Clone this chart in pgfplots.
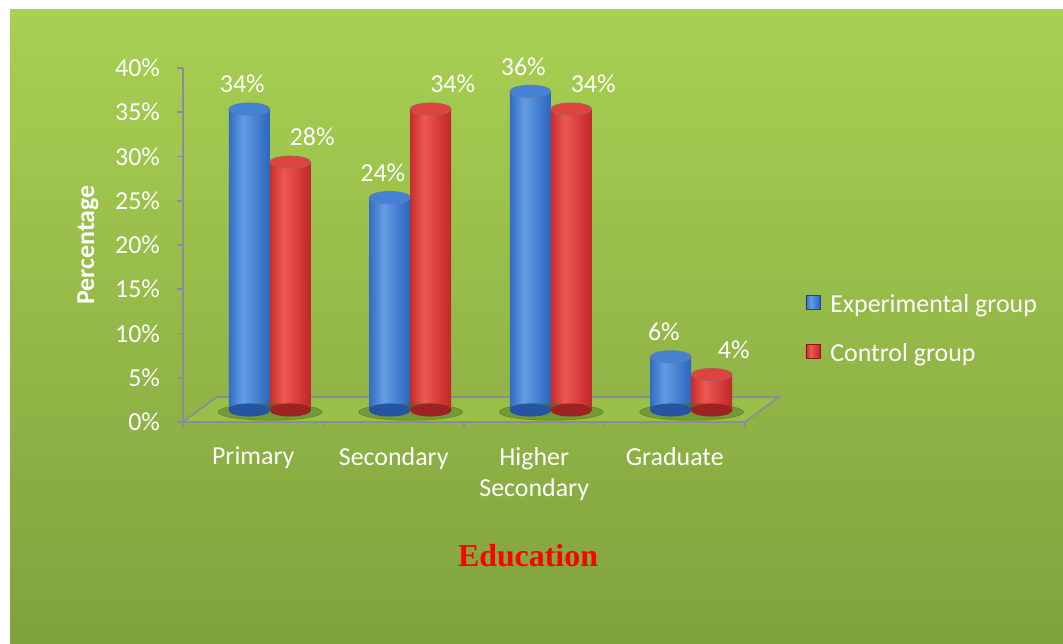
\documentclass[border=0pt]{standalone}
\usepackage{pgfplots}
\pgfplotsset{compat=1.18}
\usepackage{pgfplotstable}
\usepackage{fontspec}
\setmainfont{Carlito}
\newfontfamily\timesfont{Liberation Serif}
\definecolor{bgtop}{RGB}{168,208,82}
\definecolor{bgbot}{RGB}{128,162,62}
\definecolor{bluedark}{RGB}{28,68,140}
\definecolor{bluemid}{RGB}{50,110,195}
\definecolor{bluelight}{RGB}{100,155,228}
\definecolor{bluecap}{RGB}{70,130,212}
\definecolor{reddark}{RGB}{130,26,26}
\definecolor{redmid}{RGB}{200,45,45}
\definecolor{redlight}{RGB}{238,88,82}
\definecolor{redcap}{RGB}{222,68,62}
\definecolor{axisgray}{RGB}{140,140,152}
\definecolor{floorgreen}{RGB}{152,192,72}
\definecolor{shadowgreen}{RGB}{70,110,30}
\pgfdeclarehorizontalshading{bluecyl}{100bp}{color(0bp)=(bluedark); color(25bp)=(bluemid); color(42bp)=(bluelight); color(70bp)=(bluemid); color(100bp)=(bluedark)}
\pgfdeclarehorizontalshading{redcyl}{100bp}{color(0bp)=(reddark); color(25bp)=(redmid); color(42bp)=(redlight); color(70bp)=(redmid); color(100bp)=(reddark)}

\pgfplotstableread{
x y z
-0.028 34 0
0.972 24 0
1.972 36 0
2.972 6 0
}\expdata
\pgfplotstableread{
x y z
0.263 28 0
1.263 34 0
2.263 34 0
3.263 4 0
}\condata
\pgfplotstableread{
x y
0.12 0
1.12 0
2.12 0
3.12 0
}\shadowdata

\pgfplotsset{
  bluebar/.style={ybar, bar width=0.29, bar shift=0pt, draw=none, shading=bluecyl, yshift=6bp,
    every node near coord/.append style={xshift=-3.5bp, yshift=12.5bp},
    legend image code/.code={\fill[bluemid, draw=bluedark] (0bp,-8.5bp) rectangle (7bp,-1.5bp);}},
  redbar/.style={ybar, bar width=0.29, bar shift=0pt, draw=none, shading=redcyl, yshift=6bp,
    every node near coord/.append style={xshift=11bp, yshift=12.5bp},
    legend image code/.code={\fill[redmid, draw=reddark] (0bp,-8.5bp) rectangle (7bp,-1.5bp);}},
}

\begin{document}
\begin{tikzpicture}[x=0.5bp,y=0.5bp]
\useasboundingbox (0,0) rectangle (1063,644);
\fill[white] (0,0) rectangle (1063,644);
\shade[top color=bgtop, bottom color=bgbot] (10,0) rectangle (1063,634);
\begin{axis}[
  at={(91.5bp,111bp)}, anchor=south west,
  scale only axis, width=281bp, height=177bp,
  xmin=-0.5, xmax=3.5, ymin=0, ymax=40, clip=false,
  axis x line*=bottom, axis y line*=left,
  axis line style={axisgray, line width=0.8bp, -},
  xtick={0,1,2,3},
  xticklabels={Primary,Secondary,{Higher\\Secondary},Graduate},
  xticklabel style={align=center, text=white, anchor=north, font=\fontsize{13}{16}\selectfont, yshift=-6bp},
  major x tick style={draw=none},
  minor xtick={-0.5,0.5,1.5,2.5,3.5},
  ytick={0,5,...,40},
  yticklabel={\pgfmathprintnumber{\tick}\%},
  yticklabel style={text=white, font=\fontsize{13}{16}\selectfont, xshift=-5bp},
  /pgf/number format/assume math mode=true,
  tick align=outside, major tick length=3bp, minor tick length=3bp,
  every tick/.style={axisgray, line width=0.8bp},
  legend style={at={(1.107,0.373)}, anchor=north west, draw=none, fill=none,
    font=\fontsize{13}{16}\selectfont, text=white, row sep=10bp, inner sep=0pt,
    /tikz/every odd column/.append style={column sep=3bp}},
  legend cell align=left,
  nodes near coords={\pgfmathprintnumber{\pgfplotspointmeta}\%},
  every node near coord/.append style={text=white, font=\fontsize{13}{16}\selectfont, anchor=center},
]
% floor
\addplot[forget plot, fill=floorgreen, draw=axisgray, line width=0.8bp, nodes near coords={}] coordinates {(-0.5,0) (3.5,0) (3.74,2.82) (-0.26,2.82)} -- cycle;
% shadows
\addplot[forget plot, only marks, mark=*, color=shadowgreen, opacity=0.45, mark size=26bp, mark options={yscale=0.16}, yshift=5bp, nodes near coords={}] table[x=x,y=y]{\shadowdata};
% bottoms
\addplot[forget plot, only marks, mark=*, mark size=10.2bp, color=bluedark!60!bluemid, mark options={yscale=0.3}, yshift=6bp, nodes near coords={}] table[x=x,y=z]{\expdata};
\addplot[forget plot, only marks, mark=*, mark size=10.2bp, color=reddark!60!redmid, mark options={yscale=0.3}, yshift=6bp, nodes near coords={}] table[x=x,y=z]{\condata};
% bars
\addplot[bluebar] coordinates {(-0.028,34)};
\addlegendentry{Experimental group}
\addplot[redbar] coordinates {(0.263,28)};
\addlegendentry{Control group}
\addplot[bluebar, forget plot] coordinates {(0.972,24)};
\addplot[redbar, forget plot] coordinates {(1.263,34)};
\addplot[bluebar, forget plot] coordinates {(1.972,36)};
\addplot[redbar, forget plot] coordinates {(2.263,34)};
\addplot[bluebar, forget plot] coordinates {(2.972,6)};
\addplot[redbar, forget plot] coordinates {(3.263,4)};
% caps
\addplot[forget plot, only marks, mark=*, mark size=10.2bp, color=bluedark!70, mark options={yscale=0.3, fill=bluecap}, yshift=6bp, nodes near coords={}] table[x=x,y=y]{\expdata};
\addplot[forget plot, only marks, mark=*, mark size=10.2bp, color=reddark!70, mark options={yscale=0.3, fill=redcap}, yshift=6bp, nodes near coords={}] table[x=x,y=y]{\condata};
\end{axis}
\node[rotate=90, font=\bfseries\fontsize{13}{16}\selectfont, text=white] at (88,399) {Percentage};
\node[font=\timesfont\bfseries\fontsize{16}{19}\selectfont, text=red] at (528,88) {Education};
\end{tikzpicture}
\end{document}
